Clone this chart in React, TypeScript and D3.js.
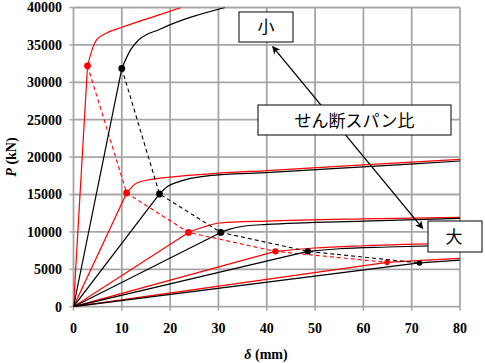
import React from "react";
import * as d3 from "d3";

const W = 485;
const H = 363;

const xTicks = [0, 10, 20, 30, 40, 50, 60, 70, 80];
const yTicks = [0, 5000, 10000, 15000, 20000, 25000, 30000, 35000, 40000];

// yield points (dots) for each shear-span ratio case
const redDots: [number, number][] = [
  [2.9, 32200],
  [11.0, 15200],
  [23.8, 9930],
  [41.8, 7400],
  [64.9, 5930],
];
const blackDots: [number, number][] = [
  [10.0, 31850],
  [17.8, 15070],
  [30.5, 9930],
  [48.5, 7400],
  [71.6, 5850],
];

// post-yield branches (after the dot)
const redPost: [number, number][][] = [
  [[4.1, 34800], [4.8, 35700], [6.9, 36600], [10.2, 37400], [17.9, 39050], [22.3, 40000]],
  [[13.1, 16540], [15.8, 16980], [20, 17330], [30, 17850], [40, 18200], [60, 18950], [80, 19700]],
  [[26.9, 10650], [30.3, 11190], [40, 11450], [60, 11750], [80, 11950]],
  [[50, 7850], [60, 8150], [80, 8500]],
  [[72, 6200], [80, 6460]],
];
const blackPost: [number, number][][] = [
  [[11.8, 34330], [13.4, 35600], [17.9, 37100], [31.4, 40000]],
  [[19.3, 16000], [22, 16750], [26.9, 17420], [40.7, 17950], [60, 18700], [80, 19480]],
  [[32.4, 10380], [35.9, 10820], [40, 11000], [60, 11450], [80, 11800]],
  [[55, 7750], [65, 7980], [80, 8230]],
  [[80, 6240]],
];
const dotRadius = [3.4, 3.4, 3.4, 3.2, 2.8];

const x = d3.scaleLinear().domain([0, 80]).range([73.5, 460]);
const y = d3.scaleLinear().domain([0, 40000]).range([306.7, 7.5]);

const linear = d3.line<[number, number]>().x((d) => x(d[0])).y((d) => y(d[1]));
const smooth = d3
  .line<[number, number]>()
  .x((d) => x(d[0]))
  .y((d) => y(d[1]))
  .curve(d3.curveMonotoneX);

const RED = "#ff0000";
const BLACK = "#000000";
const serifStyle = { fontFamily: '"Liberation Serif", "Times New Roman", serif', fontWeight: 700 as const };
const jpStyle = { fontFamily: '"Noto Sans CJK JP", sans-serif', fontWeight: 400 as const };

function Series({ dots, post, color }: { dots: [number, number][]; post: [number, number][][]; color: string }) {
  return (
    <g>
      {dots.map((d, i) => (
        <g key={i}>
          <path d={linear([[0, 0], d]) || ""} fill="none" stroke={color} strokeWidth={1.2} />
          <path d={smooth([d, ...post[i]]) || ""} fill="none" stroke={color} strokeWidth={1.2} />
        </g>
      ))}
      <path d={linear(dots) || ""} fill="none" stroke={color} strokeWidth={1.1} strokeDasharray="4,3" />
      {dots.map((d, i) => (
        <circle key={"c" + i} cx={x(d[0])} cy={y(d[1])} r={dotRadius[i]} fill={color} />
      ))}
    </g>
  );
}

export default function App() {
  const a0 = { x: 272.7, y: 46.7 };
  const a1 = { x: 422.7, y: 228.3 };
  return (
    <svg width={W} height={H} style={{ position: "absolute", left: 0, top: 0, background: "#fff" }}>
      <defs>
        <clipPath id="plot">
          <rect x={x(0)} y={y(40000)} width={x(80) - x(0)} height={y(0) - y(40000)} />
        </clipPath>
        <marker id="ah" viewBox="0 0 10 10" refX="9" refY="5" markerWidth="9" markerHeight="8" markerUnits="userSpaceOnUse" orient="auto-start-reverse">
          <path d="M0,0 L10,5 L0,10 L3,5 Z" fill="#000" />
        </marker>
      </defs>
      <rect width={W} height={H} fill="#fff" />
      {/* grid */}
      {xTicks.map((t) => (
        <line key={"gx" + t} x1={x(t)} x2={x(t)} y1={y(0)} y2={y(40000)} stroke="#a6a6a6" strokeWidth={1.8} />
      ))}
      {yTicks.map((t) => (
        <line key={"gy" + t} x1={x(0)} x2={x(80)} y1={y(t)} y2={y(t)} stroke="#a6a6a6" strokeWidth={1.8} />
      ))}
      {/* tick marks */}
      {xTicks.map((t) => (
        <line key={"tx" + t} x1={x(t)} x2={x(t)} y1={y(0)} y2={y(0) + 4} stroke="#a6a6a6" strokeWidth={1.5} />
      ))}
      {yTicks.map((t) => (
        <line key={"ty" + t} x1={x(0) - 4} x2={x(0)} y1={y(t)} y2={y(t)} stroke="#a6a6a6" strokeWidth={1.5} />
      ))}
      {/* tick labels */}
      {xTicks.map((t) => (
        <text key={"lx" + t} x={x(t)} y={333} textAnchor="middle" fontSize={14} style={serifStyle}>
          {t}
        </text>
      ))}
      {yTicks.map((t) => (
        <text key={"ly" + t} x={62} y={y(t)} dy="0.35em" textAnchor="end" fontSize={14} style={serifStyle}>
          {t}
        </text>
      ))}
      {/* axis titles */}
      <text x={266} y={359} textAnchor="middle" fontSize={14} style={serifStyle}>
        <tspan fontStyle="italic">δ</tspan> (mm)
      </text>
      <text transform={`translate(16,157) rotate(-90)`} textAnchor="middle" fontSize={14} style={serifStyle}>
        <tspan fontStyle="italic">P</tspan> (kN)
      </text>
      {/* curves */}
      <g clipPath="url(#plot)">
        <Series dots={redDots} post={redPost} color={RED} />
        <Series dots={blackDots} post={blackPost} color={BLACK} />
      </g>
      {/* annotation */}
      <line x1={a0.x} y1={a0.y} x2={a1.x} y2={a1.y} stroke="#000" strokeWidth={1.3} markerStart="url(#ah)" markerEnd="url(#ah)" />
      <rect x={239} y={12} width={54} height={30} fill="#fff" stroke="#000" strokeWidth={1} />
      <text x={266} y={27} dy="0.35em" textAnchor="middle" fontSize={17} style={jpStyle}>
        小
      </text>
      <rect x={258} y={105} width={193} height={30} fill="#fff" stroke="#000" strokeWidth={1} />
      <text x={354.5} y={121} dy="0.35em" textAnchor="middle" fontSize={17} style={jpStyle}>
        せん断スパン比
      </text>
      <rect x={428} y={221} width={54} height={31} fill="#fff" stroke="#000" strokeWidth={1} />
      <text x={454} y={237.5} dy="0.35em" textAnchor="middle" fontSize={17} style={jpStyle}>
        大
      </text>
    </svg>
  );
}
